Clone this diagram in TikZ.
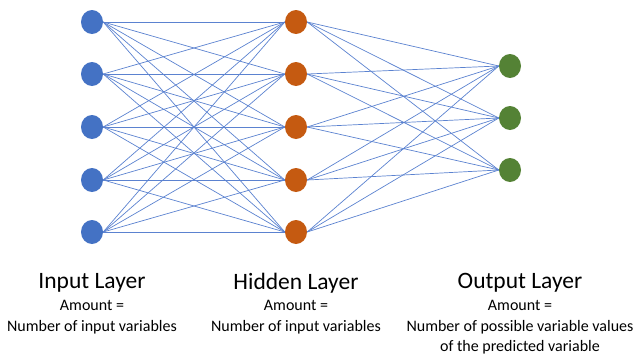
\documentclass[tikz,border=0pt]{standalone}
\usepackage{fontspec}
\setmainfont{Carlito}
\definecolor{inblue}{HTML}{4472C4}
\definecolor{hidorange}{HTML}{C55A11}
\definecolor{outgreen}{HTML}{548235}
\definecolor{wire}{HTML}{5B82D0}
\tikzset{
  neuron/.style={ellipse, minimum width=22pt, minimum height=24pt, inner sep=0pt},
  wires/.style={wire, line width=0.7pt},
  title/.style={font=\fontsize{23.5}{26}\selectfont},
  caption/.style={font=\fontsize{16}{20.5}\selectfont, align=center}
}
\usetikzlibrary{shapes.geometric}
\begin{document}
\begin{tikzpicture}[x=1pt, y=-1pt]
\useasboundingbox (0,0) rectangle (635,356);
% neurons
\foreach \i/\y in {1/22,2/74,3/127,4/180,5/232} {
  \node[neuron, fill=inblue] (in\i) at (92,\y) {};
  \node[neuron, fill=hidorange] (hid\i) at (296,\y) {};
}
\foreach \i/\y in {1/66,2/118,3/170}
  \node[neuron, fill=outgreen] (out\i) at (510,\y) {};
% connections
\foreach \i in {1,...,5} {
  \foreach \j in {1,...,5}
    \draw[wires] (in\i.east) -- (hid\j.west);
  \foreach \k in {1,2,3}
    \draw[wires] (hid\i.east) -- (out\k.west);
}
% labels
\node[title] (tin) at (92,283) {Input Layer};
\node[title] (thid) at (296,283) {Hidden Layer};
\node[title] (tout) at (520,283) {Output Layer};
\node[caption, anchor=north] (cin) at (92,297) {Amount =\\Number of input variables};
\node[caption, anchor=north] (chid) at (296,297) {Amount =\\Number of input variables};
\node[caption, anchor=north] (cout) at (520,297) {Amount =\\Number of possible variable values\\of the predicted variable};
\end{tikzpicture}
\end{document}
